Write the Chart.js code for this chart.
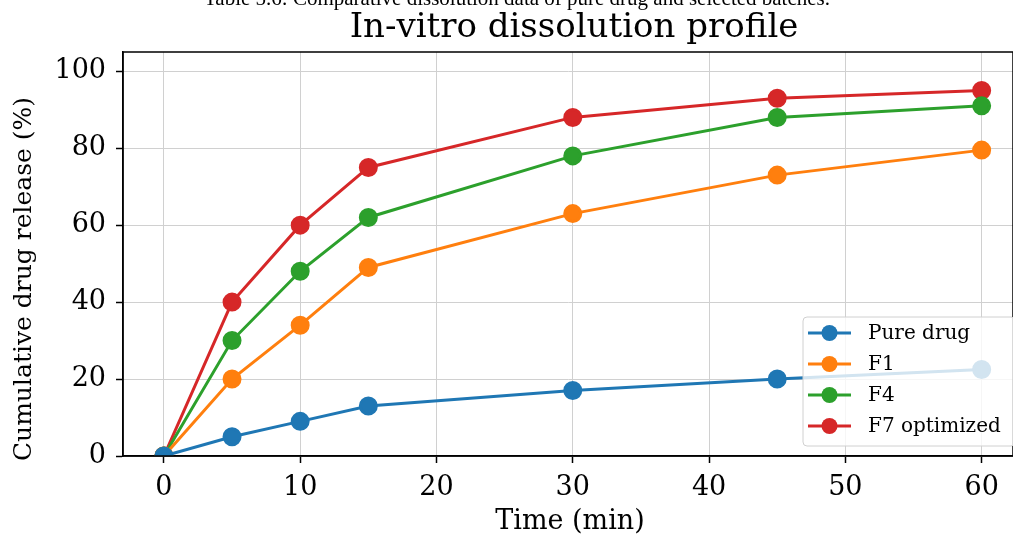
<!DOCTYPE html>
<html><head><meta charset="utf-8">
<script src="https://cdn.jsdelivr.net/npm/chart.js@4.4.1/dist/chart.umd.min.js"></script>
<style>html,body{margin:0;padding:0;background:#fff;overflow:hidden}#wrap{width:1013px;height:540px;position:relative}</style>
</head><body><div id="wrap"><canvas id="c" width="1013" height="540"></canvas></div>
<script>
const timePoints = [0, 5, 10, 15, 30, 45, 60];
const pureDrug = [0, 5, 9, 13, 17, 20, 22.5];
const f1 = [0, 20, 34, 49, 63, 73, 79.5];
const f4 = [0, 30, 48, 62, 78, 88, 91];
const f7 = [0, 40, 60, 75, 88, 93, 95];
const seriesNames = ['Pure drug', 'F1', 'F4', 'F7 optimized'];
const seriesColors = ['#1f77b4', '#ff7f0e', '#2ca02c', '#d62728'];
const xTicks = [0, 10, 20, 30, 40, 50, 60];
const yTicks = [0, 20, 40, 60, 80, 100];
const titleText = 'In-vitro dissolution profile';
const captionText = 'Table 5.6: Comparative dissolution data of pure drug and selected batches.';
const xTitleText = 'Time (min)';
const yTitleText = 'Cumulative drug release (%)';

const FONT = "'DejaVu Serif', serif";
const seriesValues = [pureDrug, f1, f4, f7];
const datasets = seriesValues.map((vals, i) => ({
  label: seriesNames[i],
  data: vals.map((v, j) => ({x: timePoints[j], y: v})),
  borderColor: seriesColors[i], backgroundColor: seriesColors[i],
  pointBackgroundColor: seriesColors[i], pointBorderColor: seriesColors[i],
  borderWidth: 3, pointRadius: 8, pointHoverRadius: 8, tension: 0, fill: false
}));

const overlay = {
  id: 'overlay',
  afterDraw(chart) {
    const ctx = chart.ctx, a = chart.chartArea;
    ctx.save();
    ctx.strokeStyle = '#000'; ctx.lineWidth = 1.5;
    ctx.strokeRect(a.left, a.top, a.right - a.left, a.bottom - a.top);
    ctx.fillStyle = '#000'; ctx.textAlign = 'center'; ctx.textBaseline = 'alphabetic';
    ctx.font = "21px 'Liberation Serif', serif";
    ctx.fillText(captionText, 517, 5);
    ctx.font = "34px " + FONT;
    ctx.fillText(titleText, 574, 37);
    // axis titles
    ctx.font = "27px " + FONT;
    ctx.textBaseline = 'middle';
    ctx.fillText(xTitleText, 570, 522);
    ctx.save();
    ctx.translate(24, 279); ctx.rotate(-Math.PI / 2);
    ctx.font = "25px " + FONT;
    ctx.fillText(yTitleText, 0, 0);
    ctx.restore();
    // legend
    const bx = 803, by = 317, bw = 212, bh = 129;
    ctx.beginPath();
    ctx.roundRect(bx, by, bw, bh, 4);
    ctx.fillStyle = 'rgba(255,255,255,0.8)'; ctx.fill();
    ctx.strokeStyle = '#d0d0d0'; ctx.lineWidth = 1; ctx.stroke();
    ctx.font = "20px " + FONT; ctx.textAlign = 'left'; ctx.textBaseline = 'middle';
    chart.data.datasets.forEach((d, i) => {
      const y = 333 + i * 31;
      ctx.strokeStyle = d.borderColor; ctx.lineWidth = 3;
      ctx.beginPath(); ctx.moveTo(808, y); ctx.lineTo(851, y); ctx.stroke();
      ctx.fillStyle = d.borderColor;
      ctx.beginPath(); ctx.arc(829.5, y, 8, 0, Math.PI * 2); ctx.fill();
      ctx.fillStyle = '#000';
      ctx.fillText(d.label, 868, y + 1);
    });
    ctx.restore();
  }
};

new Chart(document.getElementById('c'), {
  type: 'line',
  data: { datasets },
  options: {
    responsive: false, animation: false, devicePixelRatio: 1,
    layout: { autoPadding: false, padding: { top: 52, right: 0, left: 0, bottom: 0 } },
    plugins: { legend: { display: false }, tooltip: { enabled: false }, title: { display: false } },
    scales: {
      x: {
        type: 'linear', min: -3, max: 62.3,
        afterBuildTicks: s => { s.ticks = xTicks.map(v => ({value: v})); },
        afterFit: s => { s.height = 84; s.paddingLeft = 0; s.paddingRight = 0; },
        ticks: { color: '#000', font: { family: FONT, size: 27 }, padding: 9, maxRotation: 0, autoSkip: false },
        grid: { color: '#d0d0d0', lineWidth: 1, tickLength: 7, tickColor: '#000', tickWidth: 1.5 },
        border: { display: true, color: '#000', width: 1.5 },
        title: { display: false }
      },
      y: {
        type: 'linear', min: 0, max: 105,
        afterBuildTicks: s => { s.ticks = yTicks.map(v => ({value: v})); },
        afterFit: s => { s.width = 123; s.paddingTop = 0; s.paddingBottom = 0; },
        ticks: { color: '#000', font: { family: FONT, size: 27 }, padding: 10, autoSkip: false },
        grid: { color: '#d0d0d0', lineWidth: 1, tickLength: 7, tickColor: '#000', tickWidth: 1.5 },
        border: { display: true, color: '#000', width: 1.5 },
        title: { display: false }
      }
    }
  },
  plugins: [overlay]
});
</script></body></html>
